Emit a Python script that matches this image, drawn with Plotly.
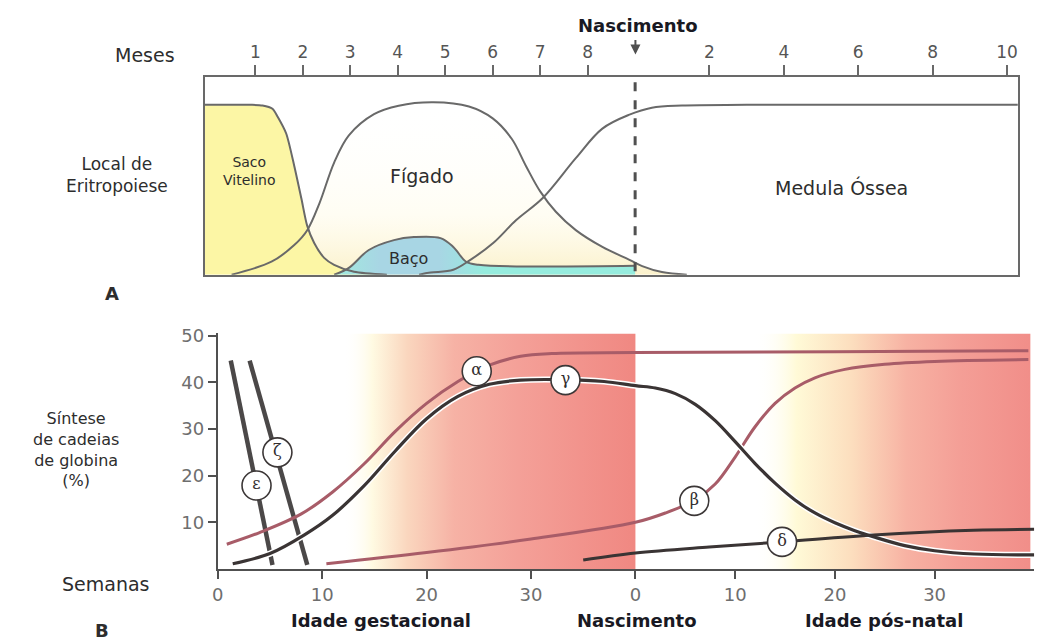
import plotly.graph_objects as go

W, H = 1061, 642

# ---------------- Panel A data (months since conception, % of activity) ----------------
BIRTH_MONTH = 9
pre_month_ticks = [1, 2, 3, 4, 5, 6, 7, 8]
post_month_ticks = [2, 4, 6, 8, 10]

saco_m = [-0.06, 0.9, 1.15, 1.36, 1.47, 1.65, 1.82, 1.97, 2.09, 2.24, 2.45, 2.66, 3.08, 3.77]
saco_v = [100, 100, 99.6, 97.7, 93, 83.1, 64, 44.8, 29, 18.6, 9.9, 5.8, 1.7, 0]

figado_m = [0.50, 1.34, 1.82, 2.09, 2.35, 2.66, 2.97, 3.50, 4.02, 4.75, 5.5, 6.0, 6.4,
            6.7, 7.0, 7.33, 7.75, 8.31, 8.88, 9.19, 9.72, 10.39]
figado_v = [0, 7.6, 17.4, 26, 42, 66, 82, 94.5, 99.5, 101.5, 99, 92, 80,
            64, 49, 37, 26.2, 16.3, 8.7, 5, 1.5, 0]

baco_m = [2.66, 2.97, 3.39, 3.92, 4.34, 4.90, 5.17, 5.44, 5.70, 9.0]
baco_v = [0, 4, 14.5, 20.3, 22.1, 21.5, 16.3, 7.6, 5.8, 5.2]

medula_m = [4.45, 4.69, 5.17, 5.53, 6.01, 6.49, 7.06, 7.75, 8.31, 8.88, 9.45, 10.26, 12, 19.29]
medula_v = [0, 1.2, 2.9, 8.7, 18.6, 32, 45.3, 68.6, 86, 94.2, 98.3, 99.6, 100, 100]

# ---------------- Panel B data (weeks since conception, % globin chain synthesis) ----------------
BIRTH_WEEK = 40
gest_week_ticks = [0, 10, 20, 30]
post_week_ticks = [0, 10, 20, 30, 40]
pct_ticks = [10, 20, 30, 40, 50]

eps_w = [1.24, 5.24]
eps_v = [44.7, 0.85]
zeta_w = [3.05, 8.57]
zeta_v = [44.7, 0.85]

alpha_w = [0.86, 4, 8, 11, 14, 17, 20, 23, 26, 29, 32, 40, 60, 79.4]
alpha_v = [5.3, 7.8, 11.8, 16.5, 22.5, 29.5, 35.5, 40.2, 43.7, 45.6, 46.2, 46.4, 46.6, 46.8]

gamma_w = [1.43, 5, 8.3, 11, 14, 17, 20, 23, 26, 29, 33, 37, 40, 42, 44, 46, 48, 50,
           52, 54, 56, 58, 60, 62, 64, 67, 70, 74, 80]
gamma_v = [1.1, 3.3, 7.3, 11.5, 17.8, 25.3, 32.2, 37, 39.6, 40.5, 40.6, 40.2, 39.3, 38.8,
           37.6, 35.3, 31.8, 27.3, 22.6, 18.4, 14.8, 12, 9.9, 8.2, 6.8, 5.0, 3.9, 3.2, 3.0]

beta_w = [10.4, 20, 30, 40, 43, 46, 48, 50, 52, 54, 56, 58, 61, 65, 70, 79.4]
beta_v = [1.1, 3.5, 6.4, 10, 12, 14.8, 18.2, 24, 30.5, 35.5, 38.8, 41, 42.8, 43.9, 44.5, 44.9]

delta_w = [35, 40, 47.4, 54.7, 63.9, 73.9, 80]
delta_v = [1.9, 3.4, 4.7, 5.8, 7.3, 8.3, 8.5]

chain_labels = ["α", "γ", "β", "δ", "ε", "ζ"]
label_w = [24.8, 33.3, 45.9, 54.7, 3.71, 5.71]
label_v = [42.4, 40.5, 14.6, 5.8, 17.9, 25.0]

# background shading bands (weeks)
left_band = (12, 40)
right_band = (52, 79.6)
band_top = 50.5

# ---------------- scales (postnatal part drawn at a different pace) ----------------
A_POST_SCALE = 37.4 / 47.75
B_POST_SCALE = 10.03 / 10.5


def ax_a(vals):
    return [v if v <= BIRTH_MONTH else BIRTH_MONTH + (v - BIRTH_MONTH) * A_POST_SCALE for v in vals]


def ax_b(vals):
    return [v if v <= BIRTH_WEEK else BIRTH_WEEK + (v - BIRTH_WEEK) * B_POST_SCALE for v in vals]


GRAY = "rgb(105,105,105)"
MAUVE = "rgb(168,92,104)"
DARK = "rgb(58,52,52)"
FONT = "DejaVu Sans"

fig = go.Figure()

# ---------- Panel A ----------
fig.add_trace(go.Scatter(x=ax_a(figado_m), y=figado_v, mode="none", fill="toself",
                         fillgradient=dict(type="vertical",
                                           colorscale=[[0, "rgba(250,238,190,0.8)"],
                                                       [0.35, "rgba(255,250,225,0.4)"],
                                                       [1, "rgba(255,255,255,0)"]]),
                         line_shape="spline", hoverinfo="skip", xaxis="x", yaxis="y"))
fig.add_trace(go.Scatter(x=ax_a(saco_m), y=saco_v, mode="lines", fill="tozeroy",
                         fillcolor="rgb(252,246,165)", line=dict(width=0, shape="spline", smoothing=0.7),
                         hoverinfo="skip", xaxis="x", yaxis="y"))
fig.add_trace(go.Scatter(x=ax_a(baco_m), y=baco_v, mode="lines", fill="tozeroy",
                         fillgradient=dict(type="horizontal",
                                           colorscale=[[0, "rgb(160,235,222)"], [0.15, "rgb(168,214,228)"],
                                                       [0.35, "rgb(168,214,228)"], [0.5, "rgb(150,236,222)"],
                                                       [1, "rgb(150,236,222)"]]),
                         line=dict(width=0, shape="spline"),
                         hoverinfo="skip", xaxis="x", yaxis="y"))
for xs, ys, sm in [(saco_m, saco_v, 0.7), (figado_m, figado_v, 1), (baco_m, baco_v, 1),
                   (medula_m, medula_v, 1)]:
    fig.add_trace(go.Scatter(x=ax_a(xs), y=ys, mode="lines",
                             line=dict(color=GRAY, width=2, shape="spline", smoothing=sm),
                             hoverinfo="skip", xaxis="x", yaxis="y"))

# ---------- Panel B ----------
for (b0, b1), cs in [
    (left_band, [[0, "rgba(255,255,255,0)"], [0.1, "rgb(255,250,226)"], [0.22, "rgb(250,214,190)"],
                 [0.38, "rgb(246,178,165)"], [0.6, "rgb(244,160,152)"], [1, "rgb(240,136,130)"]]),
    (right_band, [[0, "rgba(255,255,255,0)"], [0.15, "rgb(255,250,215)"], [0.35, "rgb(252,222,190)"],
                  [0.55, "rgb(247,178,163)"], [0.75, "rgb(244,158,150)"], [1, "rgb(241,142,137)"]]),
]:
    xb = ax_b([b0, b1, b1, b0, b0])
    fig.add_trace(go.Scatter(x=xb, y=[0, 0, band_top, band_top, 0], mode="none", fill="toself",
                             fillgradient=dict(type="horizontal", colorscale=cs),
                             hoverinfo="skip", xaxis="x2", yaxis="y2"))


def line_b(xs, ys, color, width, halo=False):
    if halo:
        fig.add_trace(go.Scatter(x=ax_b(xs), y=ys, mode="lines",
                                 line=dict(color="white", width=width + 3, shape="spline"),
                                 hoverinfo="skip", xaxis="x2", yaxis="y2"))
    fig.add_trace(go.Scatter(x=ax_b(xs), y=ys, mode="lines",
                             line=dict(color=color, width=width, shape="spline"),
                             hoverinfo="skip", xaxis="x2", yaxis="y2"))


line_b(eps_w, eps_v, "rgb(75,72,72)", 4.5)
line_b(zeta_w, zeta_v, "rgb(75,72,72)", 4.5)
line_b(beta_w, beta_v, MAUVE, 3)
line_b(alpha_w, alpha_v, MAUVE, 3)
line_b(gamma_w, gamma_v, DARK, 3.2, halo=True)
line_b(delta_w, delta_v, DARK, 3)

fig.add_trace(go.Scatter(x=ax_b(label_w), y=label_v, mode="markers+text", text=chain_labels,
                         textposition="middle center",
                         textfont=dict(family="DejaVu Serif", size=16, color="rgb(50,45,45)"),
                         marker=dict(symbol="circle", size=29, color="white",
                                     line=dict(color="rgb(60,55,55)", width=1.6)),
                         hoverinfo="skip", xaxis="x2", yaxis="y2"))

# ---------- axes ----------
a_tick_months = pre_month_ticks + [BIRTH_MONTH + m for m in post_month_ticks]
a_tick_text = [str(m) for m in pre_month_ticks + post_month_ticks]
b_tick_weeks = gest_week_ticks + [BIRTH_WEEK + w for w in post_week_ticks]
b_tick_text = [str(w) for w in gest_week_ticks + post_week_ticks]

fig.update_layout(
    width=W, height=H, autosize=False,
    margin=dict(l=0, r=0, t=0, b=0),
    paper_bgcolor="white", plot_bgcolor="rgba(0,0,0,0)",
    showlegend=False,
    font=dict(family=FONT, color="rgb(40,40,40)"),
    xaxis=dict(domain=[200 / W, 1018 / W], range=[-0.063, 17.07], side="top",
               showline=True, linecolor=GRAY, linewidth=2, mirror=True,
               ticks="outside", ticklen=10, tickwidth=2, tickcolor=GRAY,
               tickvals=ax_a(a_tick_months), ticktext=a_tick_text,
               tickfont=dict(family=FONT, size=17, color="rgb(85,85,85)"),
               showgrid=False, zeroline=False, fixedrange=True),
    yaxis=dict(domain=[1 - 270 / H, 1 - 70 / H], range=[0, 116.3],
               showline=True, linecolor=GRAY, linewidth=2, mirror=True,
               showticklabels=False, ticks="", showgrid=False, zeroline=False),
    xaxis2=dict(domain=[213 / W, 1034 / W], range=[0, 78.19], anchor="y2",
                showline=True, linecolor="rgb(80,80,80)", linewidth=2,
                ticks="outside", ticklen=8, tickwidth=2, tickcolor="rgb(80,80,80)",
                tickvals=ax_b(b_tick_weeks), ticktext=b_tick_text,
                tickfont=dict(family=FONT, size=18, color="rgb(110,110,110)"),
                showgrid=False, zeroline=False),
    yaxis2=dict(domain=[1 - 568 / H, 1 - 329.6 / H], range=[0, 50.5], anchor="x2",
                showline=True, linecolor="rgb(80,80,80)", linewidth=2,
                ticks="outside", ticklen=8, tickwidth=2, tickcolor="rgb(80,80,80)",
                tickvals=pct_ticks,
                tickfont=dict(family=FONT, size=18, color="rgb(110,110,110)"),
                showgrid=False, zeroline=False),
)

# birth dashed line in panel A
fig.add_shape(type="line", xref="x", yref="y", x0=ax_a([BIRTH_MONTH])[0], x1=ax_a([BIRTH_MONTH])[0],
              y0=2, y1=115, line=dict(color="rgb(80,80,80)", width=3, dash="dash"))


# ---------- text ----------
def txt(text, xpx, ypx, size=19, bold=False, color="rgb(45,45,45)"):
    fig.add_annotation(xref="paper", yref="paper", x=xpx / W, y=1 - ypx / H,
                       text=f"<b>{text}</b>" if bold else text, showarrow=False,
                       xanchor="center", yanchor="middle", align="center",
                       font=dict(family=FONT, size=size, color=color))


BOLD = "rgb(25,25,35)"
txt("Meses", 140, 48)
txt("Local de<br>Eritropoiese", 112, 169, size=17)
txt("Nascimento", 636, 18, size=18, bold=True, color=BOLD)
txt("A", 107, 289, size=18, bold=True)
txt("Saco<br>Vitelino", 244, 165, size=14)
txt("Fígado", 418, 170, size=19)
txt("Baço", 405, 254, size=16)
txt("Medula Óssea", 840, 182, size=19)

txt("Síntese<br>de cadeias<br>de globina<br>(%)", 70, 447, size=16)
txt("Semanas", 101, 583)
txt("B", 97, 630, size=18, bold=True)
txt("Idade gestacional", 377, 620, size=18, bold=True, color=BOLD)
txt("Nascimento", 635, 620, size=18, bold=True, color=BOLD)
txt("Idade pós-natal", 883, 620, size=18, bold=True, color=BOLD)

# arrow pointing to birth on the month scale
fig.add_annotation(xref="paper", yref="paper", x=633 / W, y=1 - 47 / H, text="",
                   showarrow=True, arrowhead=2, arrowsize=1, arrowwidth=2,
                   arrowcolor="rgb(80,80,80)", ax=0, ay=-16)

fig.write_html("out.html", config={"displayModeBar": False},
               post_script="document.body.style.margin='0';document.body.style.overflow='hidden';")
